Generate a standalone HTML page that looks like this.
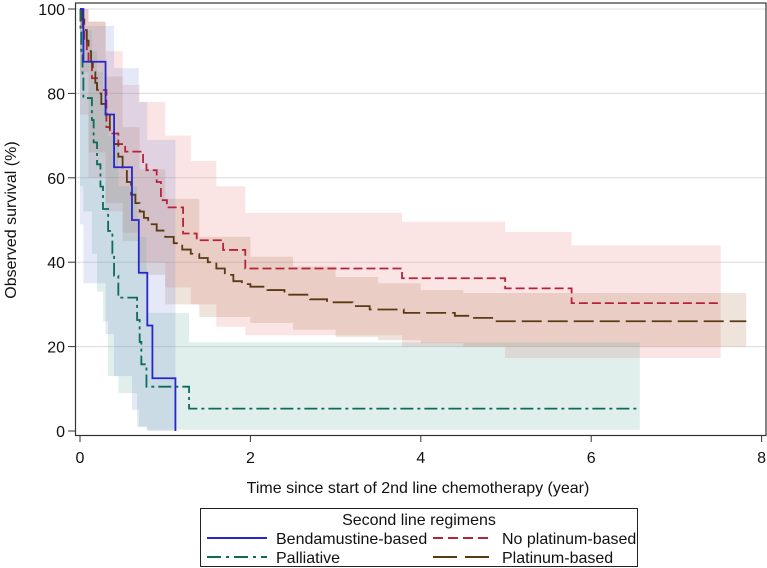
<!DOCTYPE html>
<html><head><meta charset="utf-8"><style>
html,body{margin:0;padding:0;background:#fff;}
svg{display:block;font-family:"Liberation Sans",Arial,sans-serif;}
</style></head><body>
<svg id="chart" width="767" height="568" viewBox="0 0 767 568">
<rect x="0" y="0" width="767" height="568" fill="#fff"/>
<g id="grid"></g>
<g id="bands"></g>
<g id="lines"></g>
<rect x="75.5" y="3" width="690.5" height="432.5" fill="none" stroke="#333" stroke-width="1.2"/>
<g id="axes"></g>
<text x="418" y="493" text-anchor="middle" font-size="16" fill="#111">Time since start of 2nd line chemotherapy (year)</text>
<text transform="translate(16,220) rotate(-90)" text-anchor="middle" font-size="16" fill="#111">Observed survival (%)</text>
<g>
<rect x="200.5" y="508.5" width="437" height="58" fill="#fff" stroke="#222" stroke-width="1"/>
<text x="419" y="525" text-anchor="middle" font-size="16" fill="#111">Second line regimens</text>
<g><line x1="207" y1="538" x2="267" y2="538" stroke="#2626cc" stroke-width="2"/><text x="276" y="544" font-size="16" fill="#111">Bendamustine-based</text></g>
<g><line x1="433" y1="538" x2="493" y2="538" stroke="#b5233a" stroke-width="2" stroke-dasharray="10,5"/><text x="502" y="544" font-size="16" fill="#111">No platinum-based</text></g>
<g><line x1="207" y1="557" x2="267" y2="557" stroke="#0d6b5a" stroke-width="2" stroke-dasharray="14,5,3,5"/><text x="276" y="563" font-size="16" fill="#111">Palliative</text></g>
<g><line x1="433" y1="557" x2="493" y2="557" stroke="#5a3a12" stroke-width="2" stroke-dasharray="24,8"/><text x="502" y="563" font-size="16" fill="#111">Platinum-based</text></g>
</g>
</svg>
<script>
// ---- data ----
const xTicks = [0, 2, 4, 6, 8];
const yTicks = [0, 20, 40, 60, 80, 100];

const bendaT = [0, 0.04, 0.30, 0.40, 0.61, 0.69, 0.79, 0.85, 1.12];
const bendaS = [100, 87.5, 75, 62.5, 50, 37.5, 25, 12.5, 0];
const bendaBandT = [0, 0.04, 0.30, 0.40, 0.61, 0.69, 0.79, 0.85, 1.12];
const bendaLo = [100, 49, 35, 23, 13, 5, 1, 0, 0];
const bendaHi = [100, 96, 96, 86, 86, 78, 69, 69, 69];

const pallT = [0, 0.005, 0.015, 0.03, 0.04, 0.14, 0.16, 0.20, 0.24, 0.27, 0.33, 0.38, 0.40, 0.45, 0.67, 0.70, 0.72, 0.78, 1.28, 6.55];
const pallS = [100, 94.7, 89.5, 84.2, 78.9, 73.7, 68.4, 63.2, 57.9, 52.6, 47.4, 42.1, 36.8, 31.6, 26.3, 21.1, 15.8, 10.5, 5.3, 5.3];
const pallBandT = [0, 0.04, 0.14, 0.20, 0.27, 0.33, 0.45, 0.67, 0.78, 1.28, 6.57];
const pallLo = [100, 58, 52, 42, 33, 26, 13, 9, 1, 0.3, 0.3];
const pallHi = [100, 95, 90, 85, 77, 70, 58, 46, 28, 21, 21];

const noPlatT = [0, 0.01, 0.03, 0.05, 0.08, 0.10, 0.14, 0.20, 0.31, 0.35, 0.45, 0.53, 0.74, 0.78, 0.90, 0.95, 1.02, 1.21, 1.37, 1.68, 1.94, 3.78, 4.99, 5.77, 7.52];
const noPlatS = [100, 97.4, 94.9, 92.3, 89.7, 87.2, 83.6, 80.8, 72, 70.5, 68, 66.2, 63.5, 61.8, 59, 54.7, 53, 46.8, 45.2, 42.9, 38.5, 36.2, 33.8, 30.3, 30.3];
const noPlatBandT = [0, 0.1, 0.3, 0.5, 0.7, 1.0, 1.3, 1.6, 1.94, 3.78, 4.99, 5.77, 7.52];
const noPlatLo = [100, 75, 60, 52, 47, 40, 34, 30, 24.7, 22.7, 20, 17.3, 17.3];
const noPlatHi = [100, 97, 90, 82, 78, 70, 64, 58, 51.7, 49.6, 47.2, 44, 44];

const platT = [0, 0.02, 0.05, 0.08, 0.1, 0.13, 0.15, 0.18, 0.2, 0.25, 0.3, 0.35, 0.4, 0.45, 0.5, 0.55, 0.6, 0.65, 0.7, 0.75, 0.8, 0.9, 1.0, 1.1, 1.2, 1.3, 1.4, 1.5, 1.6, 1.7, 1.8, 1.9, 2.0, 2.2, 2.4, 2.7, 2.9, 3.2, 3.4, 3.8, 4.4, 4.6, 4.85, 7.82];
const platS = [100, 97.5, 95, 92.5, 90, 87.5, 85, 82.5, 80, 77.5, 75, 71.5, 68, 65, 62, 59, 56, 54, 52, 50.5, 49, 47.5, 46, 44.5, 43, 42, 41, 40, 38.5, 37, 35.5, 34.8, 34.2, 33.4, 32.3, 31.2, 30.5, 29.6, 28.8, 28, 27.3, 26.8, 26, 26];
const platBandT = [0, 0.1, 0.3, 0.5, 0.7, 1.0, 1.4, 2.0, 2.5, 3.0, 3.5, 4.0, 4.5, 7.82];
const platLo = [100, 85, 66, 54, 45, 37, 30, 27, 25.6, 24, 22.3, 21.5, 20.8, 20];
const platHi = [100, 97, 84, 72, 62, 55, 46, 41.3, 39, 36.5, 35, 33.4, 32.7, 32.7];

// ---- scales ----
function xs(t){ return 80 + t * 85.2; }
function ys(v){ return 431 - v * 4.22; }
const NS = 'http://www.w3.org/2000/svg';

function stepPath(T, S){
  let d = 'M' + xs(T[0]) + ',' + ys(S[0]);
  for (let i = 1; i < T.length; i++){
    d += ' H' + xs(T[i]) + ' V' + ys(S[i]);
  }
  return d;
}
function bandPath(T, Lo, Hi){
  let d = 'M' + xs(T[0]) + ',' + ys(Hi[0]);
  for (let i = 1; i < T.length; i++) d += ' H' + xs(T[i]) + ' V' + ys(Hi[i]);
  d += ' V' + ys(Lo[T.length-1]);
  for (let i = T.length - 1; i >= 1; i--) d += ' V' + ys(Lo[i]) + ' H' + xs(T[i-1]);
  d += ' V' + ys(Lo[0]) + ' Z';
  return d;
}

const grid = document.getElementById('grid');
yTicks.forEach(v => {
  if (v === 0) return;
  const l = document.createElementNS(NS, 'line');
  
  
  l.setAttribute('x1', 76); l.setAttribute('x2', 766);
  l.setAttribute('y1', ys(v)); l.setAttribute('y2', ys(v));
  l.setAttribute('stroke', '#dcdcdc'); l.setAttribute('stroke-width', '1');
  grid.appendChild(l);
});

const bands = document.getElementById('bands');
function addBand(name, T, Lo, Hi, fill){
  const p = document.createElementNS(NS, 'path');
  
  
  p.setAttribute('d', bandPath(T, Lo, Hi));
  p.setAttribute('fill', fill);
  bands.appendChild(p);
}
addBand('ci-band-no-platinum', noPlatBandT, noPlatLo, noPlatHi, 'rgba(230,120,120,0.2)');
addBand('ci-band-platinum', platBandT, platLo, platHi, 'rgba(170,120,80,0.2)');
addBand('ci-band-bendamustine', bendaBandT, bendaLo, bendaHi, 'rgba(120,140,215,0.2)');
addBand('ci-band-palliative', pallBandT, pallLo, pallHi, 'rgba(100,170,160,0.2)');

const lines = document.getElementById('lines');
function addLine(name, T, S, color, dash){
  const p = document.createElementNS(NS, 'path');
  
  
  p.setAttribute('d', stepPath(T, S));
  p.setAttribute('fill', 'none');
  p.setAttribute('stroke', color);
  p.setAttribute('stroke-width', '1.8');
  if (dash) p.setAttribute('stroke-dasharray', dash);
  lines.appendChild(p);
}
addLine('curve-no-platinum', noPlatT, noPlatS, '#b5233a', '9,4');
addLine('curve-platinum', platT, platS, '#5a3a12', '20,6');
addLine('curve-palliative', pallT, pallS, '#0d6b5a', '13,4,3,4');
addLine('curve-bendamustine', bendaT, bendaS, '#2626cc', null);

const axes = document.getElementById('axes');
xTicks.forEach(v => {
  const l = document.createElementNS(NS, 'line');
  
  
  l.setAttribute('x1', xs(v)); l.setAttribute('x2', xs(v));
  l.setAttribute('y1', 435.5); l.setAttribute('y2', 442);
  l.setAttribute('stroke', '#333');
  axes.appendChild(l);
  const t = document.createElementNS(NS, 'text');
  
  
  t.setAttribute('x', xs(v)); t.setAttribute('y', 463);
  t.setAttribute('text-anchor', 'middle'); t.setAttribute('font-size', '16');
  t.setAttribute('fill', '#111');
  t.textContent = v;
  axes.appendChild(t);
});
yTicks.forEach(v => {
  const l = document.createElementNS(NS, 'line');
  
  
  l.setAttribute('x1', 68); l.setAttribute('x2', 75.5);
  l.setAttribute('y1', ys(v)); l.setAttribute('y2', ys(v));
  l.setAttribute('stroke', '#333');
  axes.appendChild(l);
  const t = document.createElementNS(NS, 'text');
  
  
  t.setAttribute('x', 65); t.setAttribute('y', ys(v) + 6);
  t.setAttribute('text-anchor', 'end'); t.setAttribute('font-size', '16');
  t.setAttribute('fill', '#111');
  t.textContent = v;
  axes.appendChild(t);
});
</script>
</body></html>
